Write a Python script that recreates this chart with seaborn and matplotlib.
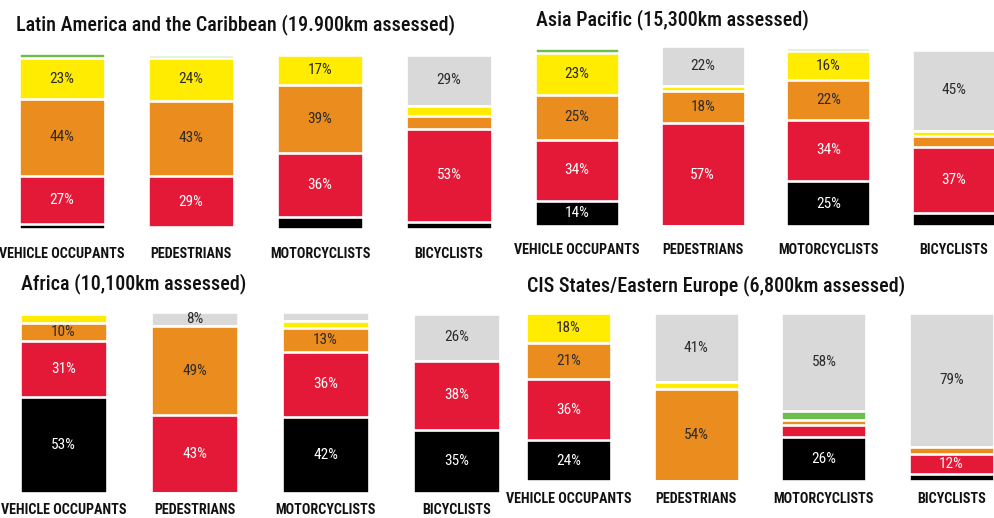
import matplotlib
matplotlib.use("Agg")
import matplotlib.pyplot as plt
import seaborn as sns

sns.set_style("white")
plt.rcParams["font.family"] = ["Roboto Condensed", "DejaVu Sans"]

# road user groups (x axis of every panel)
modes = ["VEHICLE OCCUPANTS", "PEDESTRIANS", "MOTORCYCLISTS", "BICYCLISTS"]

# star rating shares, bottom to top: 1 star, 2, 3, 4, 5 star, not applicable
levels = ["1 star", "2 star", "3 star", "4 star", "5 star", "n/a"]
colors = ["#000000", "#e31937", "#ea8c1e", "#ffec00", "#6dbd4c", "#d9d9d9"]
text_colors = ["white", "white", "#2a2a2a", "#2a2a2a", "#2a2a2a", "#2a2a2a"]

# Latin America and the Caribbean
latam_vehicle = [3, 27, 44, 23, 3, 0]
latam_ped = [1, 29, 43, 24, 2, 0]
latam_moto = [7, 36, 39, 17, 0, 0]
latam_bike = [4, 53, 7, 6, 0, 29]

# Asia Pacific
asia_vehicle = [14, 34, 25, 23, 3, 0]
asia_ped = [0, 57, 18, 3, 0, 22]
asia_moto = [25, 34, 22, 16, 2, 0]
asia_bike = [7, 37, 6, 3, 0, 45]

# Africa
africa_vehicle = [53, 31, 10, 5, 0, 0]
africa_ped = [0, 43, 49, 0, 0, 8]
africa_moto = [42, 36, 13, 4, 0, 5]
africa_bike = [35, 38, 0, 0, 0, 26]

# CIS States / Eastern Europe
cis_vehicle = [24, 36, 21, 18, 0, 0]
cis_ped = [0, 0, 54, 4, 0, 41]
cis_moto = [26, 7, 3, 0, 5, 58]
cis_bike = [4, 12, 4, 0, 0, 79]

titles = ["Latin America and the Caribbean (19.900km assessed)",
          "Asia Pacific (15,300km assessed)",
          "Africa (10,100km assessed)",
          "CIS States/Eastern Europe (6,800km assessed)"]

panels = [[latam_vehicle, latam_ped, latam_moto, latam_bike],
          [asia_vehicle, asia_ped, asia_moto, asia_bike],
          [africa_vehicle, africa_ped, africa_moto, africa_bike],
          [cis_vehicle, cis_ped, cis_moto, cis_bike]]

W, H = 995, 518
fig = plt.figure(figsize=(W / 100, H / 100), dpi=100)

# layout in pixels: first bar centre, spacing, top, bottom, bar width, title x/y, label y
layout = [
    (62, 129, 53, 229, 86, 16, 25, 254),
    (577, 125.7, 46, 226, 84, 536, 20, 250),
    (63.5, 131, 312, 493, 87, 21, 284, 510),
    (568.5, 127.7, 311, 481, 85, 527, 286, 499),
]

for i in range(4):
    c0, step, top, bot, bw, tx, ty, ly = layout[i]
    left = c0 - 0.5 * step
    ax = fig.add_axes([left / W, 1 - bot / H, 4 * step / W, (bot - top) / H])

    data = panels[i]
    # cumulative heights, drawn tallest first so each layer covers the one below
    cums = []
    for row in data:
        c = []
        s = 0
        for v in row:
            s += v
            c.append(s)
        cums.append(c)

    for k in range(len(levels) - 1, -1, -1):
        sns.barplot(x=modes, y=[c[k] for c in cums], color=colors[k],
                    saturation=1, width=bw / step, edgecolor="white",
                    linewidth=1.9, ax=ax)

    for j, row in enumerate(data):
        base = 0
        for k, v in enumerate(row):
            if v >= 8:
                ax.text(j, base + v / 2, f"{v}%", ha="center", va="center",
                        fontsize=11, color=text_colors[k])
            base += v
        fig.text((c0 + j * step) / W, 1 - ly / H, modes[j], ha="center",
                 va="center", fontsize=10.2, fontweight="bold", color="#111111")

    ax.set_xlim(-0.5, 3.5)
    ax.set_ylim(0, 100)
    ax.axis("off")

    fig.text(tx / W, 1 - ty / H, titles[i], ha="left", va="center",
             fontsize=14.5, color="#111111", fontweight="medium")

fig.savefig("out.png", dpi=100, facecolor="white")
